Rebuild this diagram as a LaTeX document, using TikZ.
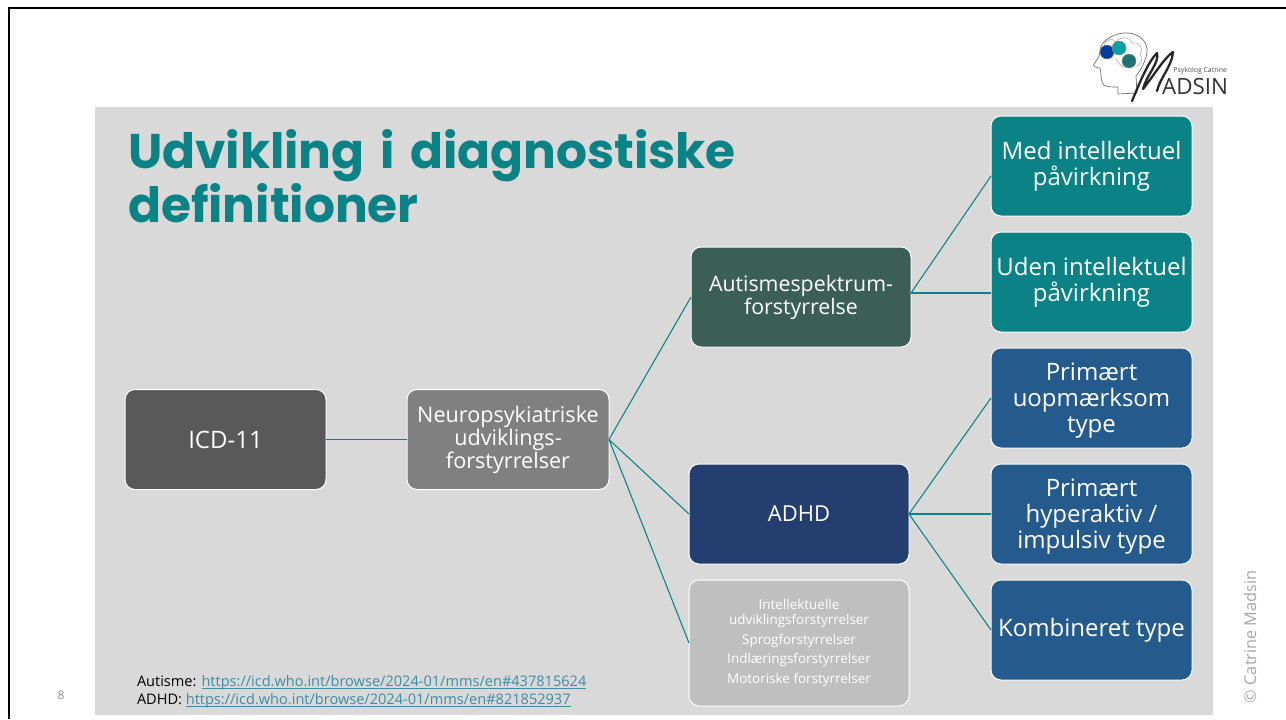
\documentclass[tikz,border=0pt]{standalone}
\usepackage{fontspec}
\setmainfont{Open Sans}
\newfontfamily\titlefont[WordSpace=1.5]{Poppins}
\usepackage{xcolor}
\usetikzlibrary{positioning}
\definecolor{slidegray}{HTML}{D9D9D9}
\definecolor{tealbox}{HTML}{0B8286}
\definecolor{greenbox}{HTML}{3B5F56}
\definecolor{navybox}{HTML}{243F6F}
\definecolor{bluebox}{HTML}{255A8C}
\definecolor{linkblue}{HTML}{3F8CA3}
\newcommand{\reflink}[1]{\textcolor{linkblue}{\setbox0=\hbox{#1}\rlap{\rule[-1.5pt]{\wd0}{0.5pt}}\box0}}
\newcommand{\firstline}{\rule{0pt}{17.5pt}}
\tikzset{
    diagbox/.style={draw=white, line width=0.75pt, rounded corners=7.5pt, minimum width=150.75pt, minimum height=75pt, inner sep=1pt, outer sep=0pt, align=center, text=white, font=\fontsize{16.2}{17.25}\selectfont},
    sidebox/.style={diagbox, font=\fontsize{18}{19.6}\selectfont},
    midbox/.style={diagbox, minimum width=165pt},
    reftext/.style={anchor=west, inner sep=0pt, font=\fontsize{10.92}{13}\selectfont},
    link/.style={draw=tealbox, line width=0.8pt},
    logoline/.style={draw=black!60, line width=0.5pt},
    lobeline/.style={draw=black!35, line width=0.4pt},
    logoblob/.style={circle, minimum size=10.5pt, inner sep=0pt, draw=black!45, line width=0.3pt},
}
\begin{document}
\begin{tikzpicture}[x=0.75pt, y=-0.75pt, node distance=12pt, outer sep=0pt]
    \useasboundingbox (0,0) rectangle (1286,719);
    \fill[white] (0,0) rectangle (1286,719);
    \fill[slidegray] (95,107) rectangle (1213,715);
    \coordinate (frametop) at (1286,8);
    \coordinate (framecorner) at (9,8);
    \coordinate (framebottom) at (9,719);
    \draw[black, line width=2pt] (frametop) -- (framecorner) -- (framebottom);

    \node [anchor=north west, inner sep=0pt, align=left, text=tealbox, font=\titlefont\bfseries\fontsize{36.5}{38.6}\selectfont] (title) at (128,129.5) {Udvikling i diagnostiske\\definitioner};

    \node [diagbox, fill=black!65, anchor=north west, font=\fontsize{18}{20}\selectfont] (icd) at (125,389.5) {ICD-11};
    \node [diagbox, fill=black!50, minimum width=151.5pt, right=60.75pt of icd] (neuro) {Neuropsykiatriske\\udviklings-\\forstyrrelser};
    \node [sidebox, fill=tealbox, anchor=north west] (med) at (991,116) {Med intellektuel\\påvirkning};
    \node [sidebox, fill=tealbox, below=of med] (uden) {Uden intellektuel\\påvirkning};
    \node [sidebox, fill=bluebox, below=of uden] (uopm) {\firstline Primært\\uopmærksom\\type};
    \node [sidebox, fill=bluebox, below=of uopm] (hyper) {\firstline Primært\\hyperaktiv /\\impulsiv type};
    \node [sidebox, fill=bluebox, below=of hyper] (komb) {Kombineret type};
    \node [midbox, fill=greenbox, font=\fontsize{16}{17.25}\selectfont, left=60pt of uden, yshift=-11.25pt] (auti) {Autismespektrum-\\forstyrrelse};
    \node [midbox, fill=navybox, font=\fontsize{16.5}{19.5}\selectfont, left=60.75pt of hyper, xshift=-0.75pt] (adhd) {ADHD};
    \node [midbox, fill=black!25, minimum height=94.5pt, below=12pt of adhd, font=\fontsize{10.1}{11.25}\selectfont] (other) {Intellektuelle\\udviklingsforstyrrelser\\[3.6pt]Sprogforstyrrelser\\[3.6pt]Indlæringsforstyrrelser\\[3.6pt]Motoriske forstyrrelser};

    \draw[link] (icd.east) -- (neuro.west);
    \draw[link] (neuro.east) -- (auti.west);
    \draw[link] (neuro.east) -- (adhd.west);
    \draw[link] (neuro.east) -- (other.west);
    \draw[link] ([yshift=3pt]auti.east) -- ([yshift=-7.5pt]med.west);
    \draw[link] ([yshift=3pt]auti.east) -- ([yshift=-8.25pt]uden.west);
    \draw[link] (adhd.east) -- (uopm.west);
    \draw[link] (adhd.east) -- (hyper.west);
    \draw[link] (adhd.east) -- (komb.west);

    \node [reftext] (refauti) at (137,683) {Autisme: \reflink{https://icd.who.int/browse/2024-01/mms/en\#437815624}};
    \node [reftext] (refadhd) at (137,701) {ADHD: \reflink{https://icd.who.int/browse/2024-01/mms/en\#821852937}};
    \node [text=black!45, inner sep=0pt, font=\fontsize{9}{11}\selectfont] (pagenum) at (61,695) {8};
    \node [rotate=90, anchor=west, inner sep=0pt, text=black!35, font=\fontsize{12.2}{14}\selectfont] (copyr) at (1250,703) {© Catrine Madsin};

    \draw[logoline] (1137,93) -- (1118,94) -- (1118,87) .. controls (1110,87) and (1103,87) .. (1102,82) .. controls (1101,78) and (1101,72) .. (1100,68) .. controls (1096,68) and (1092,66) .. (1094,64) .. controls (1097,60) and (1100,56) .. (1100,50) .. controls (1101,40) and (1116,32) .. (1128,33) .. controls (1140,34) and (1148,42) .. (1147,52) .. controls (1146,60) and (1142,68) .. (1136,76) -- (1137,93);
    \draw[lobeline] (1104,46) .. controls (1106,38) and (1114,38) .. (1116,42) .. controls (1120,36) and (1130,36) .. (1132,43) .. controls (1140,42) and (1144,48) .. (1140,54) .. controls (1144,60) and (1140,66) .. (1136,66);
    \draw[lobeline] (1116,58) .. controls (1118,64) and (1122,66) .. (1124,68);
    \node [logoblob, fill=blue!45!teal!85!black] (blobblue) at (1107,52) {};
    \node [logoblob, fill=tealbox!75!cyan] (blobteal) at (1119,48) {};
    \node [logoblob, fill=tealbox!60!greenbox] (blobgreen) at (1129,61) {};
    \draw[black!85, line width=1.7pt, line cap=round, line join=round] (1132,101) .. controls (1140,82) and (1148,62) .. (1157,53) .. controls (1160,62) and (1146,76) .. (1143,89) .. controls (1152,78) and (1164,58) .. (1173,52) .. controls (1172,66) and (1160,78) .. (1157,91);
    \node [anchor=east, inner sep=0pt, text=black!70, font=\fontsize{5.2}{6}\selectfont] (logotop) at (1227,71) {Psykolog Catrine};
    \node [anchor=east, inner sep=0pt, text=black!80, font=\fontsize{16.8}{18}\selectfont] (logoname) at (1228,86) {ADSIN};
\end{tikzpicture}
\end{document}
